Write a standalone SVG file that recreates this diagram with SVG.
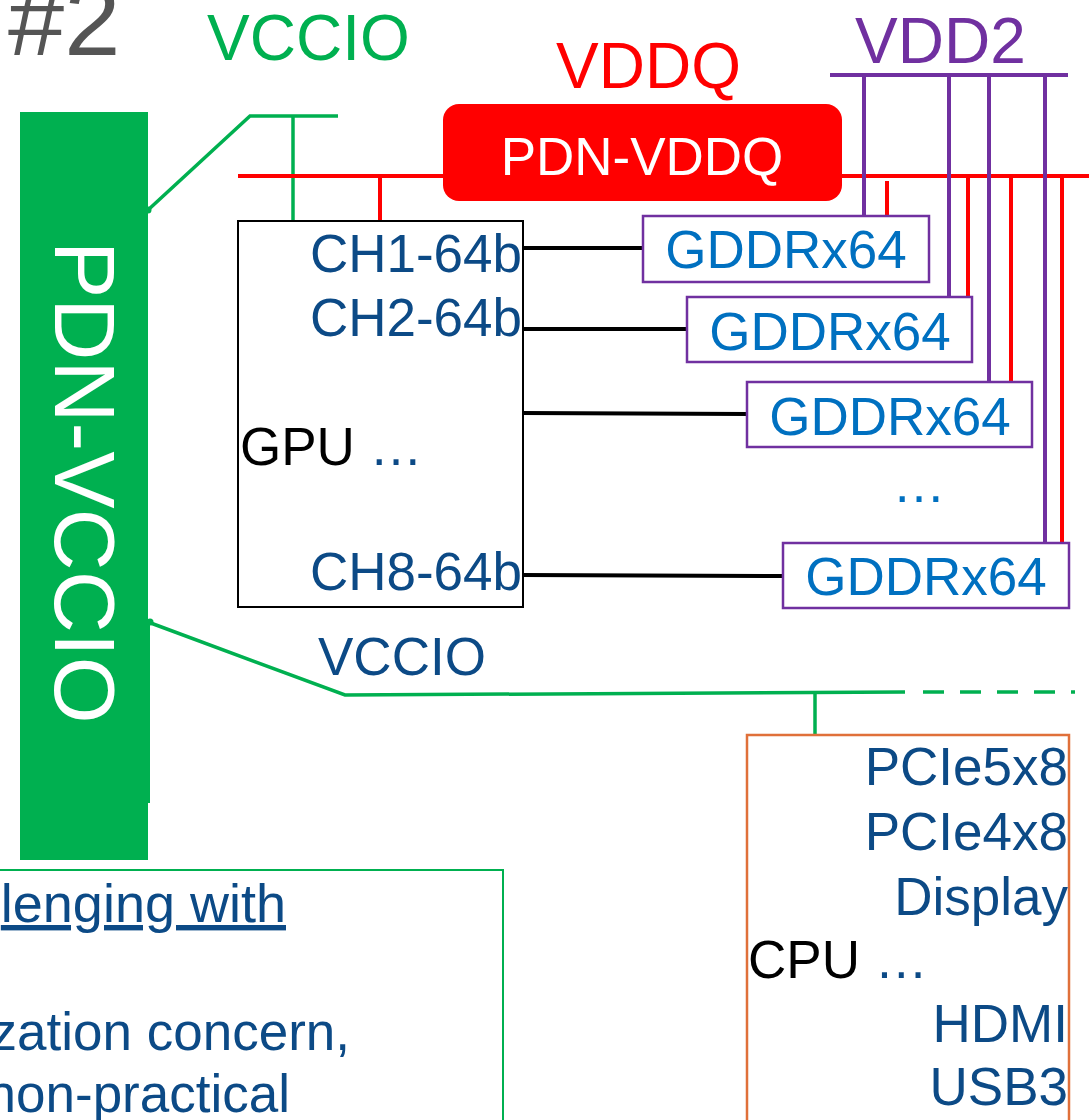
<svg xmlns="http://www.w3.org/2000/svg" width="1089" height="1120" viewBox="0 0 1089 1120">
<style>
text{font-family:"Liberation Sans",Arial,sans-serif}
.db{fill:#0C4A86}
.bl{fill:#0070C0}
.g{stroke:#00B050;stroke-width:3.5;fill:none}
.r{stroke:#FF0000;stroke-width:4;fill:none}
.p{stroke:#7030A0;stroke-width:4;fill:none}
.k{stroke:#000;stroke-width:4;fill:none}
.gddr{fill:#fff;stroke:#7030A0;stroke-width:2.5}
.t53{font-size:53px}
</style>
<rect width="1089" height="1120" fill="#fff"/>
<text x="8" y="55" font-size="101" fill="#555555">#2</text>
<text x="207" y="60" font-size="64" fill="#00B050">VCCIO</text>
<text x="556" y="88" font-size="64" fill="#FF0000">VDDQ</text>
<text x="855" y="63" font-size="64" fill="#7030A0">VDD2</text>

<g id="connectors">
  <polyline class="g" points="148,210 250,116 338,116"/>
  <circle cx="148" cy="210" r="3.5" fill="#00B050"/>
  <line class="g" x1="293" y1="116" x2="293" y2="221"/>
  <line class="r" x1="238" y1="176" x2="1089" y2="176"/>
  <line class="r" x1="380" y1="176" x2="380" y2="221"/>
  <line class="p" x1="830" y1="75" x2="1068" y2="75"/>
  <line class="p" x1="864" y1="75" x2="864" y2="216"/>
  <line class="p" x1="949" y1="75" x2="949" y2="297"/>
  <line class="p" x1="989" y1="75" x2="989" y2="382"/>
  <line class="p" x1="1045" y1="75" x2="1045" y2="543"/>
  <line class="r" x1="887" y1="181" x2="887" y2="221"/>
  <line class="r" x1="968" y1="176" x2="968" y2="297"/>
  <line class="r" x1="1011" y1="176" x2="1011" y2="382"/>
  <line class="r" x1="1062" y1="176" x2="1062" y2="543"/>
  <line class="k" x1="523" y1="248" x2="643" y2="248"/>
  <line class="k" x1="523" y1="329" x2="687" y2="329"/>
  <line class="k" x1="523" y1="413" x2="748" y2="414"/>
  <line class="k" x1="523" y1="575" x2="783" y2="576"/>
  <polyline class="g" points="148,622 345,695 905,692"/>
  <circle cx="150" cy="622" r="3.5" fill="#00B050"/>
  <line class="g" x1="923" y1="692" x2="1075" y2="692" stroke-dasharray="21 16"/>
  <line class="g" x1="815" y1="692" x2="815" y2="735"/>
</g>

<g id="pdn-vccio">
  <rect x="20" y="112" width="128" height="748" fill="#00B050"/>
  <polygon points="147,620 150,620 150,803 147,803" fill="#00B050"/>
  <text transform="translate(55,241) rotate(90)" font-size="86" fill="#fff">PDN-VCCIO</text>
</g>

<g id="pdn-vddq">
  <rect x="443" y="104" width="399" height="97" rx="16" fill="#FF0000"/>
  <text x="642" y="175" font-size="53" fill="#fff" text-anchor="middle">PDN-VDDQ</text>
</g>

<g id="gpu">
  <rect x="238" y="221" width="285" height="386" fill="#fff" stroke="#000" stroke-width="2"/>
  <text class="db t53" x="522" y="272" text-anchor="end">CH1-64b</text>
  <text class="db t53" x="522" y="336" text-anchor="end">CH2-64b</text>
  <text class="t53" x="240" y="465"><tspan fill="#000">GPU </tspan><tspan class="db">…</tspan></text>
  <text class="db t53" x="522" y="590" text-anchor="end">CH8-64b</text>
</g>

<g id="gddr1">
  <rect class="gddr" x="643" y="216" width="286" height="66"/>
  <text class="bl t53" x="786" y="268" text-anchor="middle">GDDRx64</text>
</g>
<g id="gddr2">
  <rect class="gddr" x="687" y="297" width="285" height="65"/>
  <text class="bl t53" x="830" y="350" text-anchor="middle">GDDRx64</text>
</g>
<g id="gddr3">
  <rect class="gddr" x="747" y="382" width="285" height="65"/>
  <text class="bl t53" x="890" y="435" text-anchor="middle">GDDRx64</text>
</g>
<text class="bl t53" x="919" y="502" text-anchor="middle">…</text>
<g id="gddr8">
  <rect class="gddr" x="783" y="543" width="286" height="65"/>
  <text class="bl t53" x="926" y="595" text-anchor="middle">GDDRx64</text>
</g>

<text class="db t53" x="318" y="675">VCCIO</text>

<g id="cpu">
  <rect x="747" y="735" width="322" height="420" fill="#fff" stroke="#E0703A" stroke-width="2.5"/>
  <text class="db t53" x="1068" y="785" text-anchor="end">PCIe5x8</text>
  <text class="db t53" x="1068" y="850" text-anchor="end">PCIe4x8</text>
  <text class="db t53" x="1068" y="915" text-anchor="end">Display</text>
  <text class="t53" x="748" y="978"><tspan fill="#000">CPU </tspan><tspan class="db">…</tspan></text>
  <text class="db t53" x="1068" y="1042" text-anchor="end">HDMI</text>
  <text class="db t53" x="1068" y="1105" text-anchor="end">USB3</text>
</g>

<g id="notes">
  <rect x="-10" y="870" width="513" height="300" fill="#fff" stroke="#00B050" stroke-width="2"/>
  <text x="286" y="922" font-size="54" class="db" text-anchor="end" text-decoration="underline">lenging with</text>
  <text class="db t53" x="350" y="1050" text-anchor="end">zation concern,</text>
  <text class="db t53" x="290" y="1112" text-anchor="end">non-practical</text>
</g>
</svg>
